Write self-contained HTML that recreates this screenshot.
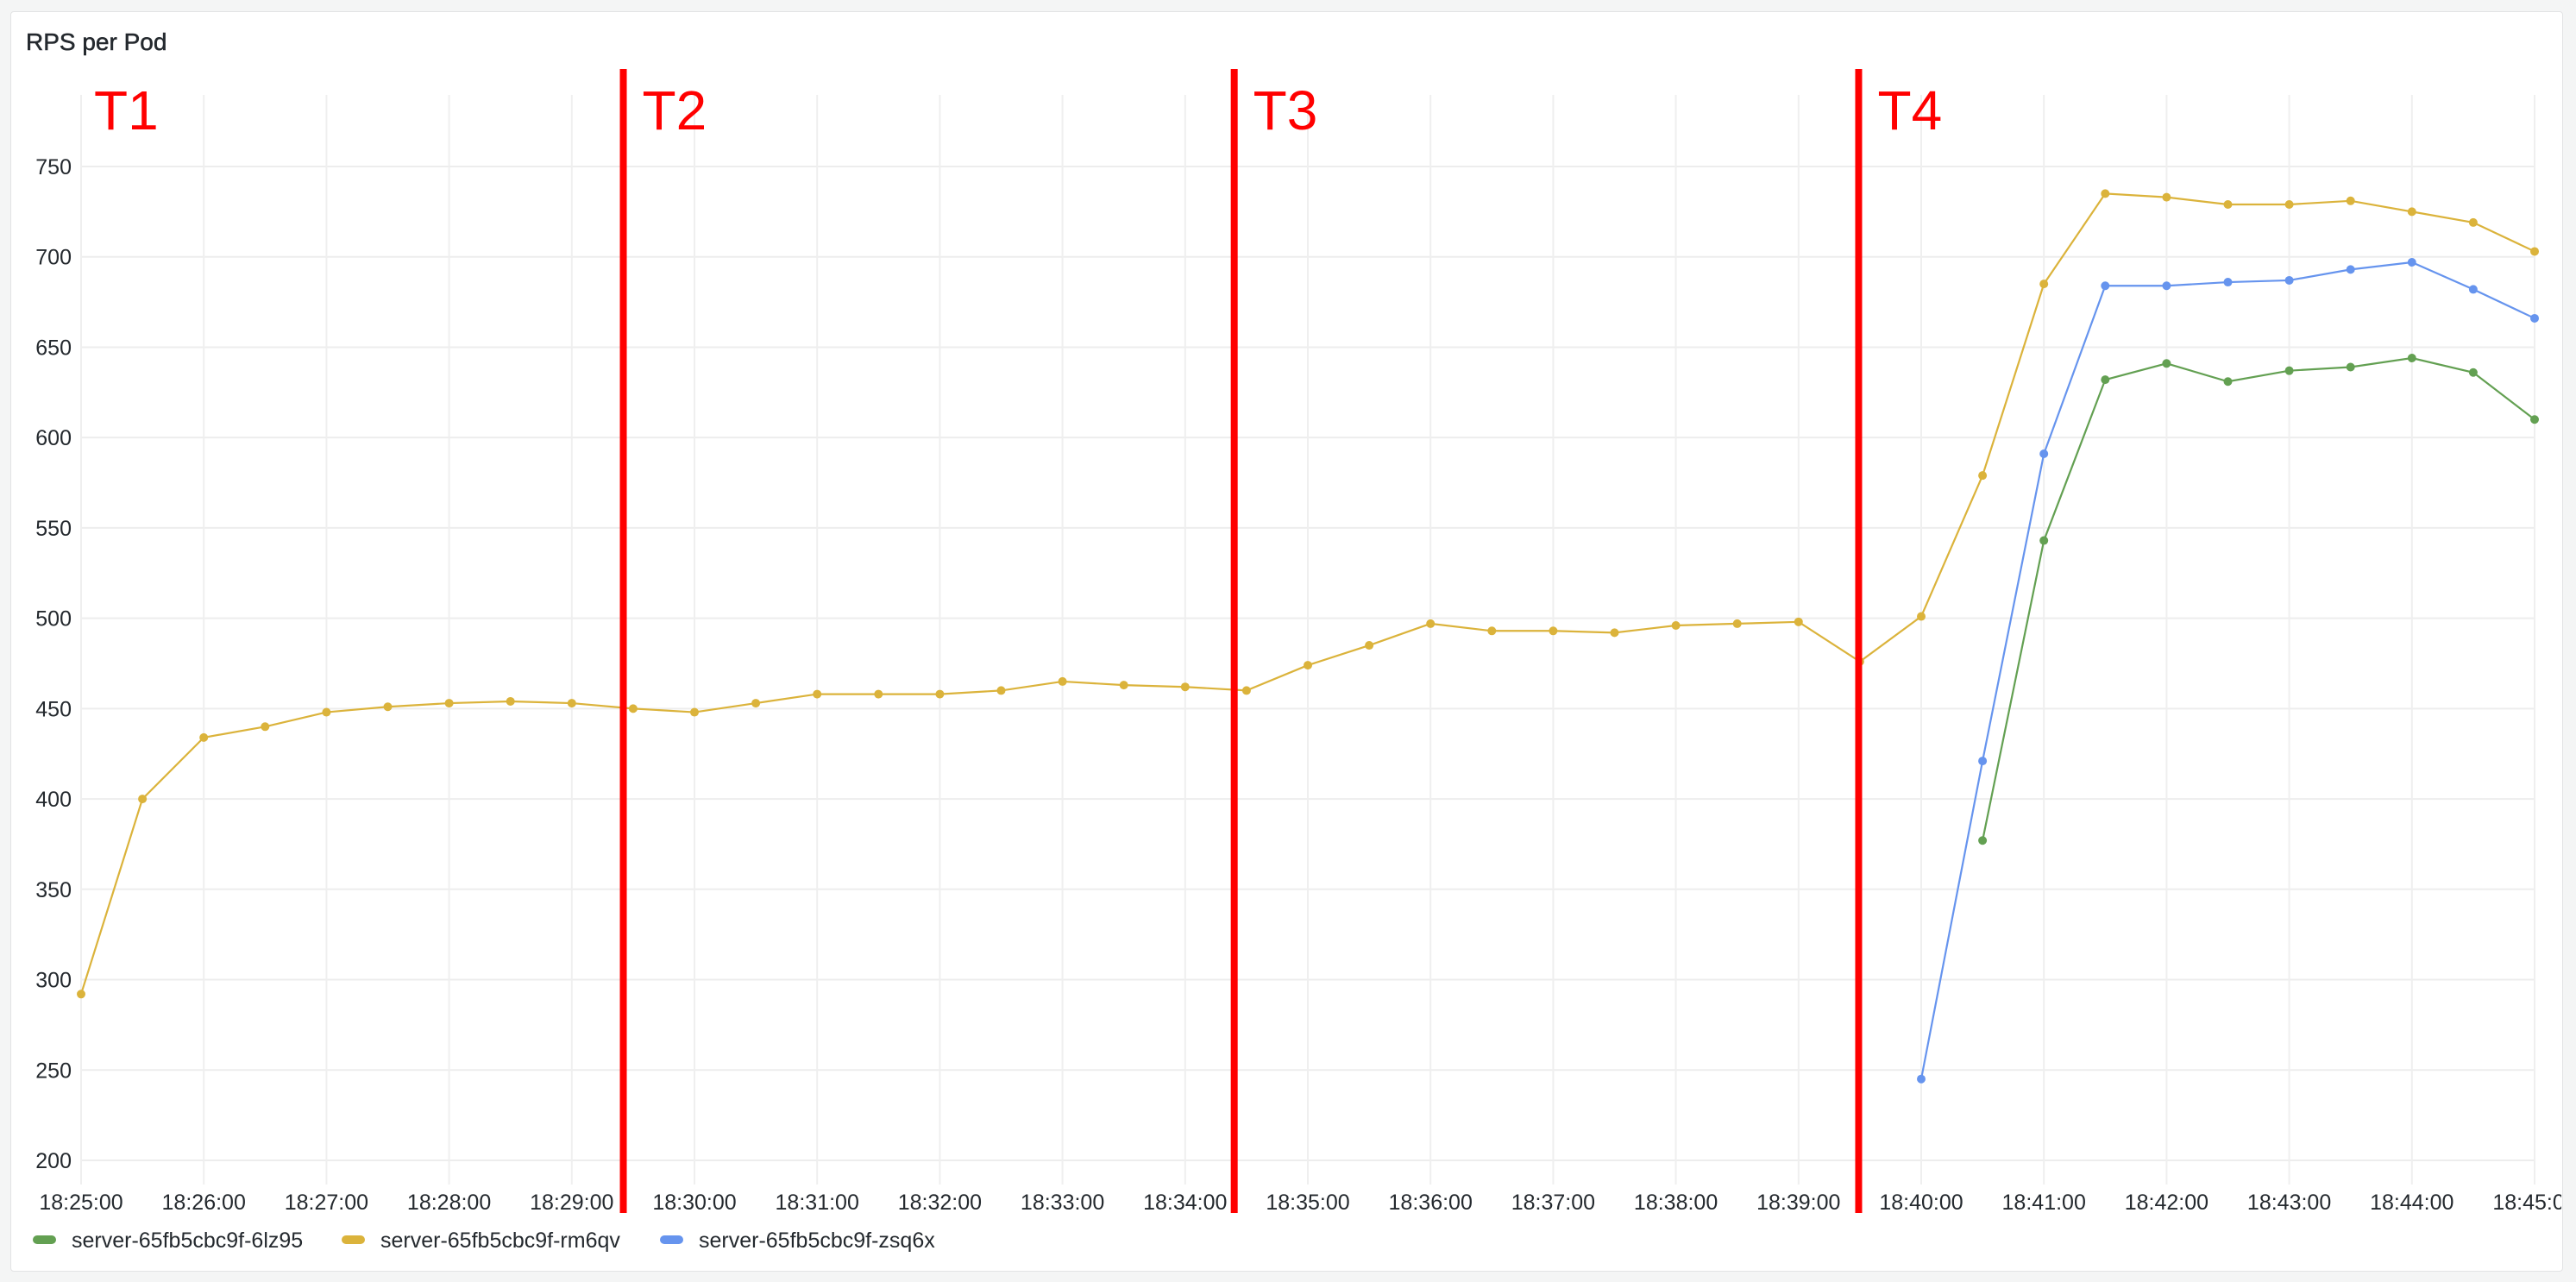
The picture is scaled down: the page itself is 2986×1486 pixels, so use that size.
<!DOCTYPE html>
<html><head><meta charset="utf-8">
<style>
html,body{margin:0;padding:0;background:#f4f5f5;}
body{width:2986px;height:1486px;overflow:hidden;position:relative;font-family:"Liberation Sans",sans-serif;}
#panel{position:absolute;left:12px;top:13px;width:2957px;height:1459px;background:#fff;border:1px solid #e2e3e4;border-radius:4px;overflow:hidden;}
svg{position:absolute;left:0;top:0;}
</style></head>
<body>
<div id="panel"></div>
<svg id="chart" width="2986" height="1486">
<defs><clipPath id="pc"><rect x="13" y="14" width="2956" height="1458"/></clipPath></defs>
<g clip-path="url(#pc)" id="root"></g>
</svg>
<script>
const NS="http://www.w3.org/2000/svg";
const yTicks=[200,250,300,350,400,450,500,550,600,650,700,750];
const xTickLabels=["18:25:00","18:26:00","18:27:00","18:28:00","18:29:00","18:30:00","18:31:00","18:32:00","18:33:00","18:34:00","18:35:00","18:36:00","18:37:00","18:38:00","18:39:00","18:40:00","18:41:00","18:42:00","18:43:00","18:44:00","18:45:00"];
// series: minutes since 18:25:00 for first point, then 30s steps
const yellowStart=0;
const yellowValues=[292,400,434,440,448,451,453,454,453,450,448,453,458,458,458,460,465,463,462,460,474,485,497,493,493,492,496,497,498,476,501,579,685,735,733,729,729,731,725,719,703];
const blueStart=15;
const blueValues=[245,421,591,684,684,686,687,693,697,682,666];
const greenStart=15.5;
const greenValues=[377,543,632,641,631,637,639,644,636,610];
const markers=[{label:"T1",min:null},{label:"T2",min:4.42},{label:"T3",min:9.40},{label:"T4",min:14.49}];

const X0=94,PXMIN=142.2,Y750=193,PXU=2.0945;
const xs=m=>X0+m*PXMIN;
const ys=v=>Y750+(750-v)*PXU;
const root=document.getElementById('root');
function el(t,a,txt){const e=document.createElementNS(NS,t);for(const k in a)e.setAttribute(k,a[k]);if(txt!==undefined)e.textContent=txt;root.appendChild(e);return e;}

let e=el('text',{x:30,y:58,'font-size':28,fill:'#24292e','stroke':'#24292e','stroke-width':0.5},'RPS per Pod');



yTicks.forEach(v=>{
 let g=el('line',{x1:X0,x2:xs(20),y1:ys(v),y2:ys(v),stroke:'#ededed','stroke-width':2});
 
 
 let t=el('text',{x:83,y:ys(v)+9,'font-size':25,fill:'#24292e','text-anchor':'end'},String(v));
 
 
});
xTickLabels.forEach((l,i)=>{
 let g=el('line',{x1:xs(i),x2:xs(i),y1:110,y2:1373,stroke:'#efefef','stroke-width':2});
 
 
 let t=el('text',{x:xs(i),y:1402,'font-size':25,fill:'#24292e','text-anchor':'middle'},l);
 
 
});

function series(start,vals,color,name){
 const pts=vals.map((v,i)=>[xs(start+i*0.5),ys(v)]);
 let p=el('polyline',{points:pts.map(p=>p.join(',')).join(' '),fill:'none',stroke:color,'stroke-width':2.2});
 
 
 pts.forEach(q=>{
  let c=el('circle',{cx:q[0],cy:q[1],r:5,fill:color});
  
  
 });
}
series(yellowStart,yellowValues,'#dbb33b','series-rm6qv');
series(greenStart,greenValues,'#63a052','series-6lz95');
series(blueStart,blueValues,'#6694ee','series-zsq6x');

markers.forEach((m,i)=>{
 let lx=109;
 if(m.min!==null){
  const x=xs(m.min);
  let r=el('rect',{x:x-4,y:80,width:8,height:1326,fill:'#ff0000'});
  
  
  lx=x+22;
 }
 let t=el('text',{x:lx,y:150,'font-size':64,fill:'#ff0000'},m.label);
 
 
});

const legend=[["server-65fb5cbc9f-6lz95","#63a052",38],["server-65fb5cbc9f-rm6qv","#dbb33b",396],["server-65fb5cbc9f-zsq6x","#6694ee",765]];
legend.forEach(l=>{
 let s=el('rect',{x:l[2],y:1432,width:27,height:10,rx:5,fill:l[1]});
 
 
 let t=el('text',{x:l[2]+45,y:1446,'font-size':25,fill:'#24292e'},l[0]);
 
 
});
</script>
</body></html>
